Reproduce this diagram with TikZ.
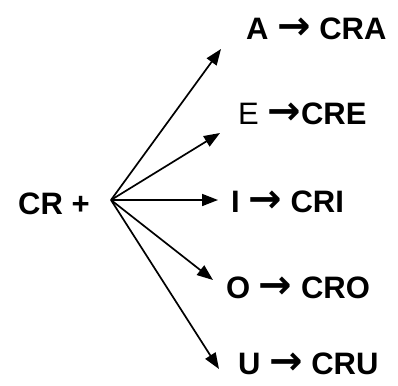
\documentclass[tikz,border=0pt]{standalone}
\usepackage{fontspec}
\setmainfont{Liberation Sans}
\newfontfamily\arrowfont{DejaVu Sans}
\usetikzlibrary{arrows.meta}

\newcommand{\rarr}{\smash{\arrowfont\bfseries\fontsize{40}{40}\selectfont →}}

\tikzset{
  lbl/.style={font=\bfseries\fontsize{31}{34}\selectfont, anchor=west, inner sep=0pt},
  branch/.style={line width=1.7pt, -{Triangle[length=16pt,width=12pt]}}
}

\begin{document}
\begin{tikzpicture}[x=1pt,y=-1pt]
	\useasboundingbox (0,0) rectangle (398,385);
	
	\node[lbl] (cr) at (18,204) {CR +};
	\coordinate (src) at (111,200);
	
	\node[lbl] (a) at (246,29) {A \rarr{} CRA};
	\node[lbl] (e) at (238,114) {{\mdseries E} \rarr CRE};
	\node[lbl] (i) at (231,202) {I \rarr{} CRI};
	\node[lbl] (o) at (226,288) {O \rarr{} CRO};
	\node[lbl] (u) at (238,364) {U \rarr{} CRU};
	
	\coordinate (ta) at (221,49);
	\coordinate (te) at (220,133);
	\coordinate (ti) at (218,200);
	\coordinate (to) at (213,280);
	\coordinate (tu) at (219,369);
	
	\foreach \t in {ta,te,ti,to,tu}
		\draw[branch] (src) -- (\t);
\end{tikzpicture}
\end{document}
